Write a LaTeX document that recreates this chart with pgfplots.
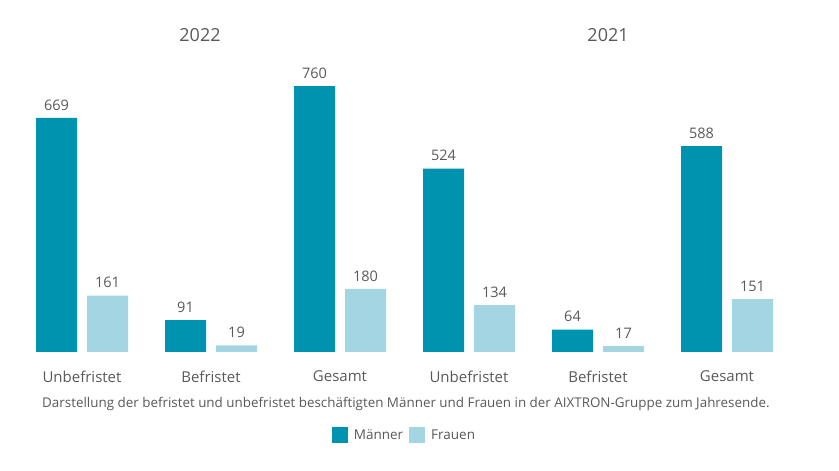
\documentclass[border=0pt]{standalone}
\usepackage{pgfplots}
\pgfplotsset{compat=1.18}
\usepackage{fontspec}
\setmainfont{Open Sans}
\definecolor{maenner}{HTML}{0093B0}
\definecolor{frauen}{HTML}{A3D5E2}
\definecolor{txt}{HTML}{595959}
\begin{document}
\begin{tikzpicture}
\useasboundingbox (0,0) rectangle (839pt,471pt);
\begin{axis}[
    at={(17.5pt,119pt)}, anchor=south west,
    scale only axis, width=774pt, height=280pt,
    xmin=-0.5, xmax=5.5, ymin=0, ymax=800,
    axis line style={draw=none},
    major tick length=0pt,
    ybar, bar width=41pt,
    xtick={0,...,5},
    xticklabels={Unbefristet,Befristet,Gesamt,Unbefristet,Befristet,Gesamt},
    ytick=\empty,
    /pgf/number format/assume math mode=true,
    nodes near coords,
    every node near coord/.append style={font=\fontsize{14.5}{16}\selectfont, text=txt, yshift=4pt},
    xticklabel style={font=\fontsize{15}{18}\selectfont, text=txt, yshift=-15pt},
    clip=false,
    legend columns=2,
    legend style={at={(0.5,-0.296)}, anchor=center, draw=none, font=\fontsize{13.5}{16}\selectfont, text=txt,
        /tikz/every odd column/.style={column sep=4pt},
        /tikz/every even column/.style={column sep=4pt}},
    legend image code/.code={\fill[#1] (0pt,-7.5pt) rectangle (16pt,8.5pt);},
]
\addplot[fill=maenner, draw=none, bar shift=-25.5pt] coordinates {(0,669) (1,91) (2,760) (3,524) (4,64) (5,588)};
\addplot[fill=frauen, draw=none, bar shift=25.5pt] coordinates {(0,161) (1,19) (2,180) (3,134) (4,17) (5,151)};
\legend{Männer, Frauen}
\node[text=txt, font=\fontsize{18}{20}\selectfont] at (rel axis cs:0.2358,1.132) {2022};
\node[text=txt, font=\fontsize{18}{20}\selectfont] at (rel axis cs:0.763,1.132) {2021};
\node[text=txt, font=\fontsize{13.4}{16}\selectfont, anchor=west, inner sep=0pt] at (rel axis cs:0.0317,-0.186) {Darstellung der befristet und unbefristet beschäftigten Männer und Frauen in der AIXTRON-Gruppe zum Jahresende.};
\end{axis}
\end{tikzpicture}
\end{document}
